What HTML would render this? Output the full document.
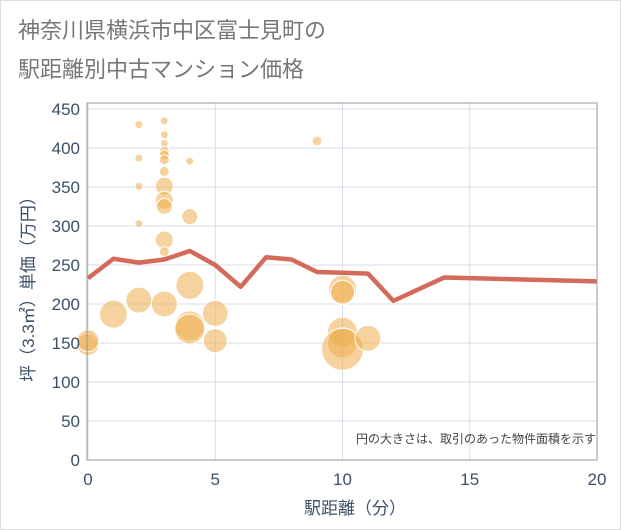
<!DOCTYPE html>
<html><head><meta charset="utf-8"><style>
body{margin:0;background:#fff}
svg{display:block;font-family:"Liberation Sans","Noto Sans CJK JP",sans-serif}
</style></head><body>
<svg width="621" height="530">
<rect x="0.5" y="0.5" width="620" height="529" fill="#fff" stroke="#ddd"/>
<text x="18" y="38" font-size="22" fill="#777">神奈川県横浜市中区富士見町の</text>
<text x="18" y="77" font-size="22" fill="#777">駅距離別中古マンション価格</text>
<g id="grid"></g>
<g id="bubbles"></g>
<g id="line"></g>
<rect x="87" y="103" width="510" height="357" fill="none" stroke="#999"/>
<g id="ticks"></g>
<text x="596" y="443" font-size="12" fill="#444" text-anchor="end">円の大きさは、取引のあった物件面積を示す</text>
<text x="355" y="514" font-size="17" fill="#3d4f6a" text-anchor="middle">駅距離（分）</text>
<text transform="translate(34,285) rotate(-90)" font-size="17" fill="#3d4f6a" text-anchor="middle">坪（3.3㎡）単価（万円）</text>
</svg>
<script>
const xTicks=[0,5,10,15,20];
const yTicks=[0,50,100,150,200,250,300,350,400,450];
const lineX=[0,1,2,3,4,5,6,7,8,9,10,11,12,14,20];
const lineY=[233,258,253,257,268,250,222,260,257,241,240,239,204,234,229];
const bubX=[2,2,2,2,3,3,3,3,3,3,3,3,3,3,3,3,4,4,9,0,0,1,2,3,4,4,4,5,5,10,10,10,10,10,11];
const bubY=[430,387,351,303,435,417,406,396,391,385,370,351,333,325,282,267,383,312,409,148,153,187,205,200,224,172,168,188,153,219,215,164,150,142,156];
const bubR=[4,4,4,4,4,4,4,5,5,5,5,9,9,8,9,5,4,8,5,11,11,14,13,13,14,15,15,13,12,14,12,15,15,21,13];
const X=v=>88+v*(509/20), Y=v=>460-v*(351/450);
const NS="http://www.w3.org/2000/svg";
const mk=(t,a,p)=>{const e=document.createElementNS(NS,t);for(const k in a)e.setAttribute(k,a[k]);p.appendChild(e);return e;};
const grid=document.getElementById('grid'),ticks=document.getElementById('ticks');
yTicks.forEach(v=>{const l=mk('line',{x1:87,x2:597,y1:Y(v),y2:Y(v),stroke:'#d5deea'},grid);


const t=mk('text',{x:80,y:Y(v)+6,'font-size':17,fill:'#3d4f6a','text-anchor':'end'},ticks);t.textContent=v;

});
xTicks.forEach(v=>{const l=mk('line',{x1:X(v),x2:X(v),y1:103,y2:460,stroke:'#d5deea'},grid);


const t=mk('text',{x:X(v),y:485,'font-size':17,fill:'#3d4f6a','text-anchor':'middle'},ticks);t.textContent=v;

});
const bg=document.getElementById('bubbles');
bubX.forEach((x,i)=>{const c=mk('circle',{cx:X(x),cy:Y(bubY[i]),r:bubR[i],fill:'#eeae4e','fill-opacity':0.55,stroke:'#fff','stroke-width':1},bg);

});
const p=mk('polyline',{points:lineX.map((x,i)=>X(x)+','+Y(lineY[i])).join(' '),fill:'none',stroke:'#d46a5a','stroke-width':4.5,'stroke-linejoin':'round'},document.getElementById('line'));


</script>
</body></html>
